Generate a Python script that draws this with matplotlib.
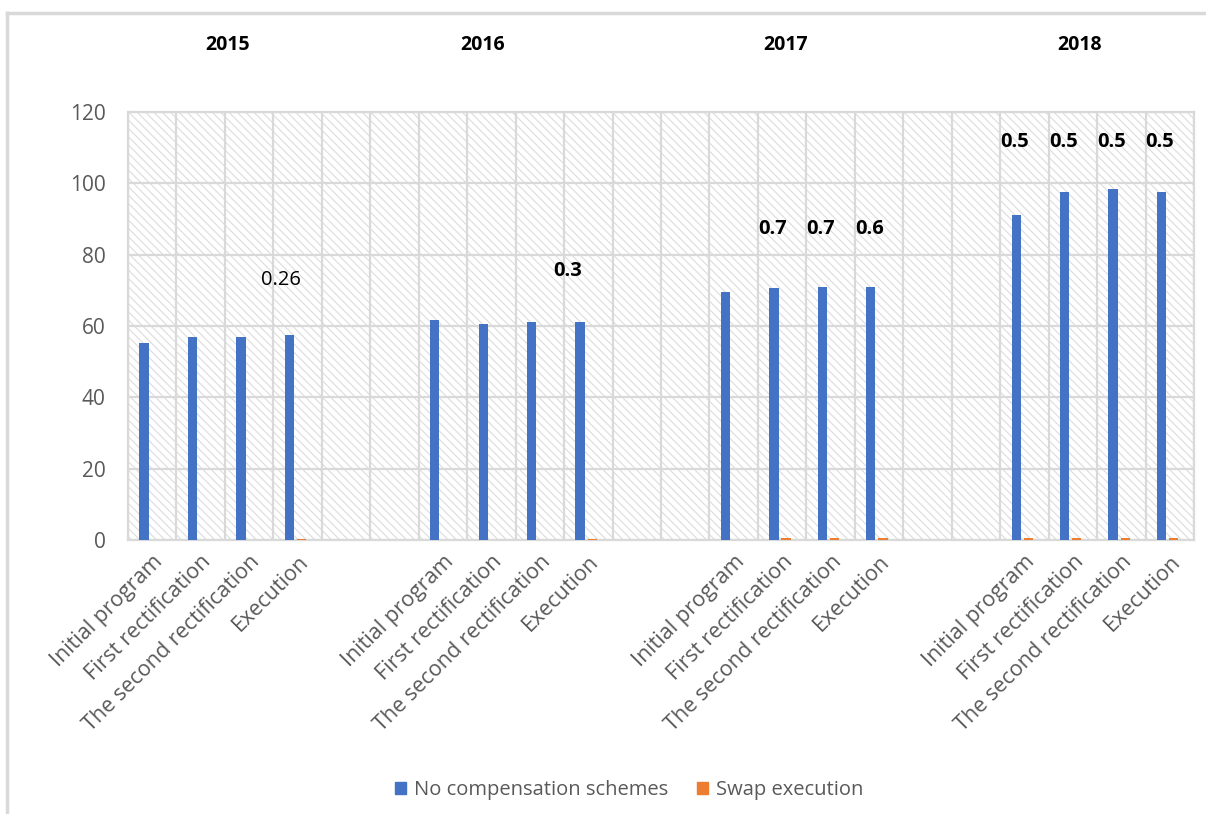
import matplotlib
matplotlib.use('Agg')
import matplotlib.pyplot as plt
from matplotlib.patches import Rectangle
from matplotlib.lines import Line2D
import matplotlib.transforms as mtransforms
import numpy as np

# data
years = ['2015', '2016', '2017', '2018']
stages = ['Initial program', 'First rectification', 'The second rectification', 'Execution']
no_comp_2015 = [55.1, 57.0, 57.0, 57.5]
no_comp_2016 = [61.6, 60.6, 61.0, 61.0]
no_comp_2017 = [69.5, 70.6, 70.9, 70.9]
no_comp_2018 = [91.1, 97.6, 98.3, 97.6]
swap_2015 = [0, 0, 0, 0.26]
swap_2016 = [0, 0, 0, 0.3]
swap_2017 = [0, 0.7, 0.7, 0.6]
swap_2018 = [0.5, 0.5, 0.5, 0.5]
# data labels as they sit in the source (bar index, label text, height on y scale)
label_bar = [3, 7, 9, 10, 11, 12, 13, 14, 15]
label_text = ['0.26', '0.3', '0.7', '0.7', '0.6', '0.5', '0.5', '0.5', '0.5']
label_y = [73, 75.5, 87.2, 87.2, 87.2, 111.6, 111.6, 111.6, 111.6]

no_comp = [no_comp_2015, no_comp_2016, no_comp_2017, no_comp_2018]
swap = [swap_2015, swap_2016, swap_2017, swap_2018]

BLUE = '#4472C4'
ORANGE = '#ED7D31'
GRID = '#d9d9d9'
TXT = '#595959'
FONT = 'Open Sans'

plt.rcParams['hatch.linewidth'] = 0.8

fig = plt.figure(figsize=(12.06, 8.14), dpi=100)
ax = fig.add_axes([128/1206, 1-540/814, (1194-128)/1206, (540-112)/814])

# each year takes 4 slots, with 2 empty slots between years
group_step = 6
x_pos = []
for g in range(len(years)):
    for i in range(len(stages)):
        x_pos.append(g * group_step + i)
x_pos = np.array(x_pos)
blue_vals = np.concatenate(no_comp)
orange_vals = np.concatenate(swap)

w = 0.19
ax.bar(x_pos - 0.17, blue_vals, width=w, color=BLUE, zorder=3)
ax.bar(x_pos + 0.08, orange_vals, width=w, color=ORANGE, zorder=3)

n_slots = group_step * (len(years) - 1) + len(stages)
ax.set_xlim(-0.5, n_slots - 0.5)
ax.set_ylim(0, 120)

# hatched plot area
ax.add_patch(Rectangle((0, 0), 1, 1, transform=ax.transAxes, facecolor='white',
                       edgecolor='#dcdcdc', hatch='\\\\\\\\', linewidth=0, zorder=0.1))

ax.set_axisbelow(True)
ax.set_yticks(np.arange(0, 121, 20))
ax.set_xticks(np.arange(-0.5, n_slots, 1), minor=True)
ax.grid(True, which='major', axis='y', color=GRID, linewidth=1.6, zorder=1)
ax.grid(True, which='minor', axis='x', color=GRID, linewidth=1.6, zorder=1)
for s in ax.spines.values():
    s.set_color(GRID)
    s.set_linewidth(1.6)

ax.set_xticks(x_pos)
ax.set_xticklabels(stages * len(years), rotation=45, ha='right', rotation_mode='anchor',
                   fontsize=15.5, color=TXT, family=FONT)
offset = mtransforms.ScaledTranslation(6/100, 0, fig.dpi_scale_trans)
for lab in ax.get_xticklabels():
    lab.set_transform(lab.get_transform() + offset)
ax.tick_params(axis='x', which='both', length=0, pad=8)
ax.tick_params(axis='y', length=0, pad=16, labelsize=15, labelcolor=TXT)
for lab in ax.get_yticklabels():
    lab.set_family(FONT)

# data labels (placed where the source shows them, a bit left of the bars)
shift = [-0.35, -0.43, -0.2, -0.2, -0.2, -0.2, -0.2, -0.2, -0.2]
for k in range(len(label_text)):
    ax.text(x_pos[label_bar[k]] + shift[k], label_y[k], label_text[k], ha='center', va='center',
            fontsize=14.5, family=FONT, fontweight='normal' if k == 0 else 'bold',
            color='black', zorder=5)

# year headers
year_px = [228, 483, 786, 1080]
for yr, px in zip(years, year_px):
    fig.text(px/1206, 1-45/814, yr, ha='center', va='center', fontsize=14,
             fontweight='bold', family=FONT, color='black')

# legend
handles = [Rectangle((0, 0), 1, 1, color=BLUE), Rectangle((0, 0), 1, 1, color=ORANGE)]
fig.legend(handles, ['No compensation schemes', 'Swap execution'], loc='center',
           bbox_to_anchor=(629/1206, 1-790/814), ncol=2, frameon=False,
           handlelength=0.55, handleheight=0.55, handletextpad=0.4, columnspacing=1.4,
           prop={'family': FONT, 'size': 14.5}, labelcolor=TXT)

# outer chart border (left and top visible)
fig.add_artist(Line2D([7/1206, 7/1206], [0, 1-13/814], color=GRID, linewidth=2.5))
fig.add_artist(Line2D([7/1206, 1], [1-13/814, 1-13/814], color=GRID, linewidth=2.5))

fig.savefig('out.png', dpi=100)
